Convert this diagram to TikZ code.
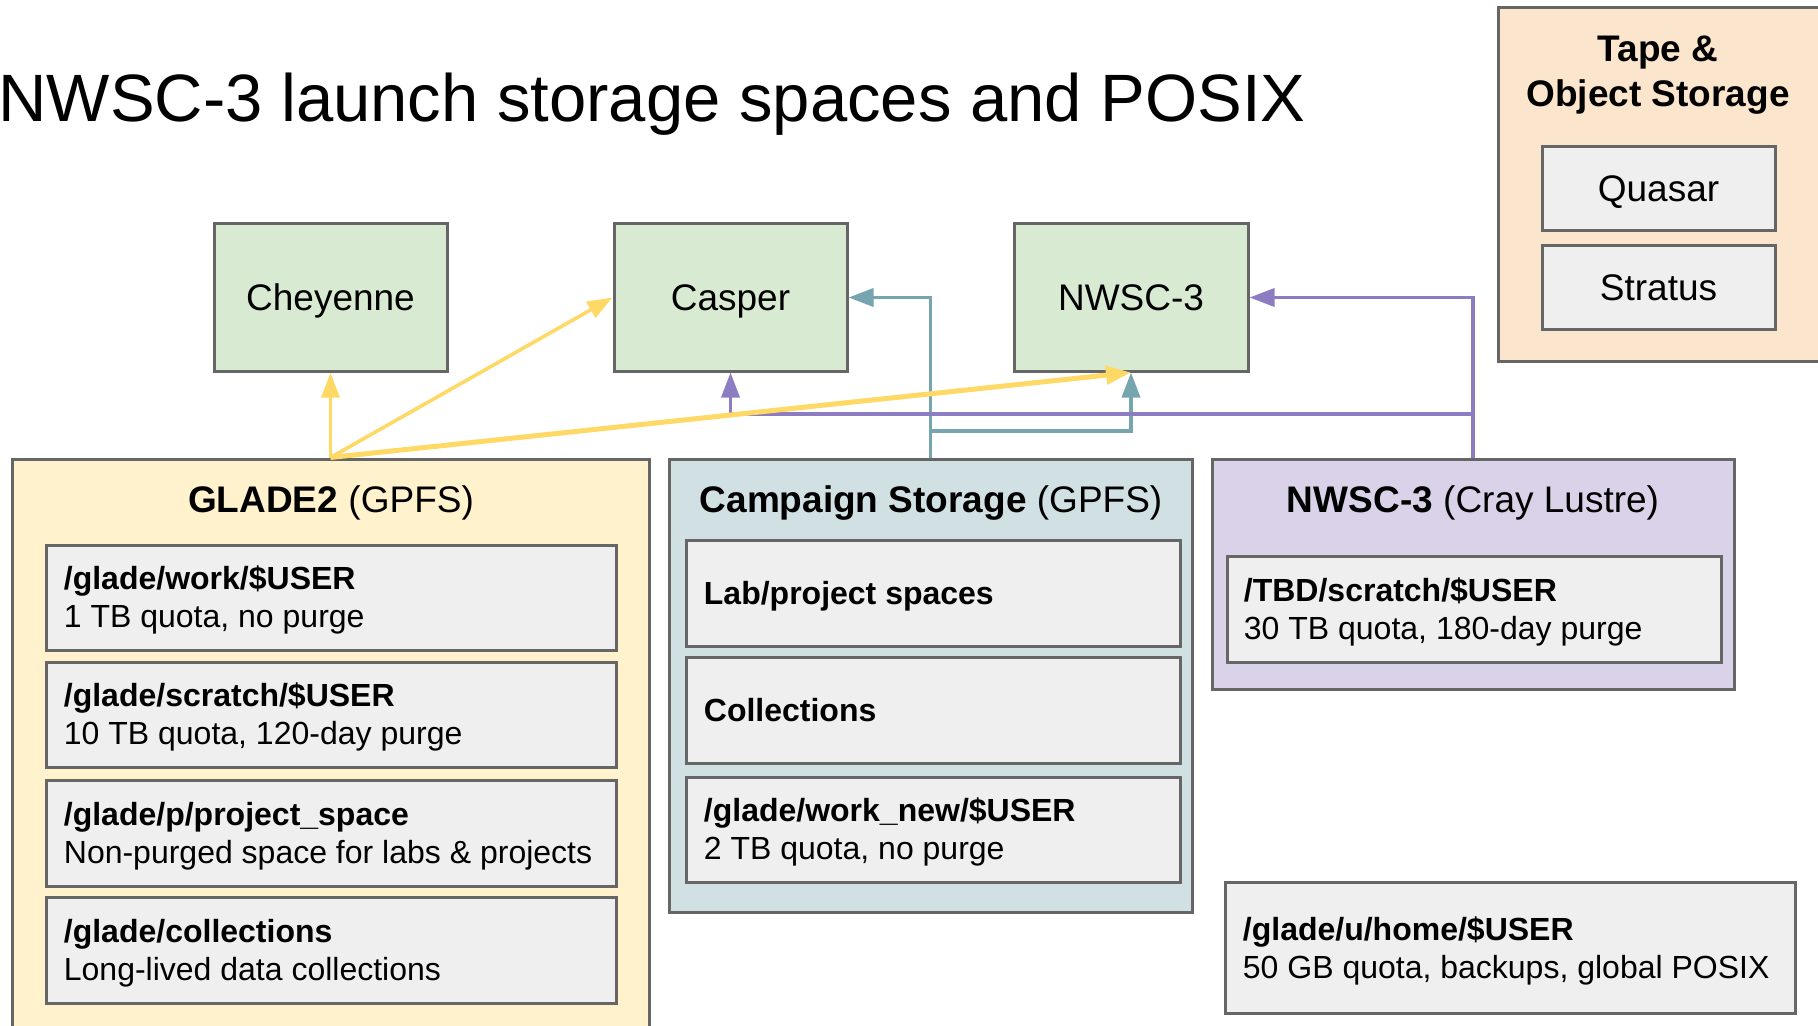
\documentclass[tikz,border=0pt]{standalone}
\usepackage{fontspec}
\setmainfont{Liberation Sans}
\usetikzlibrary{arrows.meta,fit}
\definecolor{hostgreen}{HTML}{D9EAD3}
\definecolor{gladefill}{HTML}{FFF2CC}
\definecolor{campfill}{HTML}{D0E0E3}
\definecolor{lustrefill}{HTML}{D9D2E9}
\definecolor{tapefill}{HTML}{FCE5CD}
\definecolor{ingray}{HTML}{EFEFEF}
\definecolor{bordergray}{HTML}{666666}
\definecolor{yellowc}{HTML}{FFD966}
\definecolor{tealc}{HTML}{76A5AF}
\definecolor{purplec}{HTML}{8E7CC3}
\begin{document}
\begin{tikzpicture}[x=0.5pt,y=-0.5pt,
  boxbase/.style={draw=bordergray, line width=1.5pt, inner sep=0pt, rectangle},
  hostbox/.style={boxbase, fill=hostgreen},
  groupbox/.style={boxbase},
  inbox/.style={boxbase, fill=ingray},
  bigtext/.style={inner sep=0pt, anchor=base, font=\fontsize{18.5pt}{21.3pt}\selectfont, align=center},
  intext/.style={inner sep=0pt, anchor=base west, align=left, font=\fontsize{16pt}{19pt}\selectfont},
  conn/.style={line width=1.8pt, -{Triangle[length=12.5pt,width=9pt]}}
]
\useasboundingbox (0,0) rectangle (1818,1026);

% title
\node[anchor=base west, inner sep=0pt, font=\fontsize{33.5pt}{40pt}\selectfont] (title) at (-2,122) {NWSC-3 launch storage spaces and POSIX};

% hosts
\node[hostbox, fit={(214,224)(447,371)}] (cheyenne) {};
\node[bigtext] (cheyennet) at ([yshift=-6.5pt]cheyenne.center) {Cheyenne};
\node[hostbox, fit={(614,224)(847,371)}] (casper) {};
\node[bigtext] (caspert) at ([yshift=-6.5pt]casper.center) {Casper};
\node[hostbox, fit={(1014,224)(1248,371)}] (nwsc) {};
\node[bigtext] (nwsct) at ([yshift=-6.5pt]nwsc.center) {NWSC-3};

% tape & object storage
\node[groupbox, fill=tapefill, fit={(1498,8)(1830,361)}] (tape) {};
\node[bigtext, font=\fontsize{18.5pt}{22.6pt}\selectfont\bfseries] (tapet) at (1658,107) {Tape \&\\Object Storage};
\node[inbox, fit={(1542,147)(1775,231)}] (quasar) {};
\node[bigtext] (quasart) at ([yshift=-6.5pt]quasar.center) {Quasar};
\node[inbox, fit={(1542,246)(1775,330)}] (stratus) {};
\node[bigtext] (stratust) at ([yshift=-6.5pt]stratus.center) {Stratus};

% GLADE2
\node[groupbox, fill=gladefill, fit={(12,459)(649,1045)}] (glade) {};
\node[bigtext] (gladet) at (331,512) {\textbf{GLADE2} (GPFS)};
\node[inbox, fit={(46,545)(616,650)}] (gwork) {};
\node[intext] (gworkt) at ([xshift=9.5pt,yshift=-15pt]gwork.west) {\textbf{/glade/work/\$USER}\\1 TB quota, no purge};
\node[inbox, fit={(46,662)(616,767)}] (gscr) {};
\node[intext] (gscrt) at ([xshift=9.5pt,yshift=-15pt]gscr.west) {\textbf{/glade/scratch/\$USER}\\10 TB quota, 120-day purge};
\node[inbox, fit={(46,780)(616,886)}] (gproj) {};
\node[intext] (gprojt) at ([xshift=9.5pt,yshift=-15pt]gproj.west) {\textbf{/glade/p/project\_space}\\Non-purged space for labs \& projects};
\node[inbox, fit={(46,897)(616,1003)}] (gcoll) {};
\node[intext] (gcollt) at ([xshift=9.5pt,yshift=-15pt]gcoll.west) {\textbf{/glade/collections}\\Long-lived data collections};

% Campaign storage
\node[groupbox, fill=campfill, fit={(669,459)(1192,912)}] (camp) {};
\node[bigtext] (campt) at (931,512) {\textbf{Campaign Storage} (GPFS)};
\node[inbox, fit={(686,540)(1180,646)}] (clab) {};
\node[intext] (clabt) at ([xshift=9.5pt,yshift=-5.5pt]clab.west) {\textbf{Lab/project spaces}};
\node[inbox, fit={(686,657)(1180,763)}] (ccoll) {};
\node[intext] (ccollt) at ([xshift=9.5pt,yshift=-5.5pt]ccoll.west) {\textbf{Collections}};
\node[inbox, fit={(686,777)(1180,882)}] (cwork) {};
\node[intext] (cworkt) at ([xshift=9.5pt,yshift=-15pt]cwork.west) {\textbf{/glade/work\_new/\$USER}\\2 TB quota, no purge};

% NWSC-3 Lustre
\node[groupbox, fill=lustrefill, fit={(1212,459)(1734,689)}] (lustre) {};
\node[bigtext] (lustret) at (1473,512) {\textbf{NWSC-3} (Cray Lustre)};
\node[inbox, fit={(1227,556)(1721,662)}] (lscr) {};
\node[intext] (lscrt) at ([xshift=9pt,yshift=-15pt]lscr.west) {\textbf{/TBD/scratch/\$USER}\\30 TB quota, 180-day purge};

% home
\node[inbox, fit={(1225,882)(1795,1013)}] (home) {};
\node[intext] (homet) at ([xshift=9.5pt,yshift=-15.5pt]home.west) {\textbf{/glade/u/home/\$USER}\\50 GB quota, backups, global POSIX};

% connectors
\coordinate (tbranch) at (931,431);
\coordinate (pbranch) at (1473,414);
\draw[conn, tealc] (camp.north) |- (casper.east);
\draw[conn, tealc] (tbranch) -| (nwsc.south);
\draw[conn, purplec] (lustre.north) |- (nwsc.east);
\draw[conn, purplec] (pbranch) -| (casper.south);
\draw[conn, yellowc] (glade.north) -- (cheyenne.south);
\draw[conn, yellowc] (glade.north) -- (casper.west);
\draw[conn, yellowc, line width=2.5pt] (glade.north) -- (nwsc.south);
\end{tikzpicture}
\end{document}
